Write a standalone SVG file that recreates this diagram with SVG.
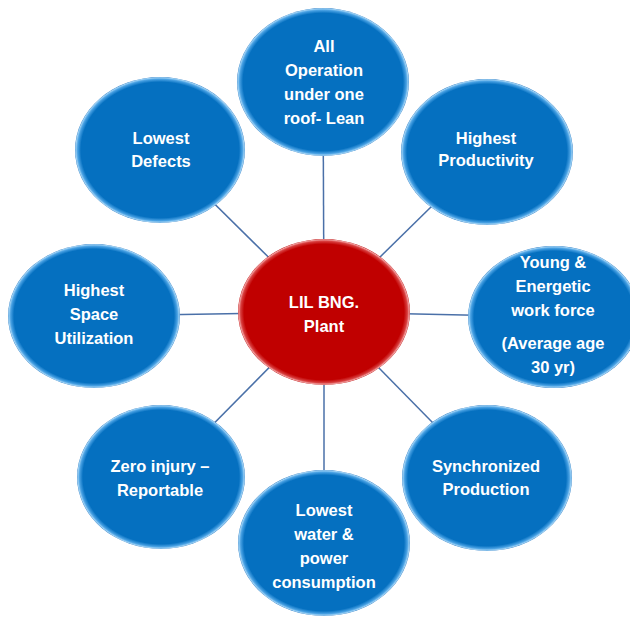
<svg xmlns="http://www.w3.org/2000/svg" width="630" height="621" viewBox="0 0 630 621">
<defs>
<radialGradient id="gb" cx="0.5" cy="0.5" r="0.5">
<stop offset="0" stop-color="#0570c0"/>
<stop offset="0.93" stop-color="#0570c0"/>
<stop offset="0.97" stop-color="#4aa2e4"/>
<stop offset="0.99" stop-color="#9fd2f5"/>
<stop offset="1" stop-color="#3a88cc"/>
</radialGradient>
<radialGradient id="gr" cx="0.5" cy="0.5" r="0.5">
<stop offset="0" stop-color="#c00000"/>
<stop offset="0.93" stop-color="#c00000"/>
<stop offset="0.97" stop-color="#d84040"/>
<stop offset="0.99" stop-color="#f2a0a0"/>
<stop offset="1" stop-color="#c42020"/>
</radialGradient>
<style>
.b{fill:url(#gb);}
.r{fill:url(#gr);}
.t{font-family:"Liberation Sans",Arial,sans-serif;font-weight:bold;font-size:16.5px;fill:#ffffff;text-anchor:middle;}
.c{stroke:#4a70a8;stroke-width:1.5;fill:none;}
</style>
</defs>
<rect width="630" height="621" fill="#ffffff"/>
<g id="connectors">
<line class="c" x1="324" y1="312" x2="323" y2="82"/>
<line class="c" x1="324" y1="312" x2="487" y2="152"/>
<line class="c" x1="324" y1="312" x2="554" y2="317"/>
<line class="c" x1="324" y1="312" x2="487" y2="478"/>
<line class="c" x1="324" y1="312" x2="324" y2="543"/>
<line class="c" x1="324" y1="312" x2="161" y2="477"/>
<line class="c" x1="324" y1="312" x2="94" y2="316"/>
<line class="c" x1="324" y1="312" x2="160" y2="150"/>
</g>
<g id="n-top">
<ellipse class="b" cx="323" cy="82" rx="86" ry="74"/>
<text class="t" x="324" y="52">All</text>
<text class="t" x="324" y="76">Operation</text>
<text class="t" x="324" y="100">under one</text>
<text class="t" x="324" y="124">roof- Lean</text>
</g>
<g id="n-productivity">
<ellipse class="b" cx="487" cy="152" rx="86" ry="73"/>
<text class="t" x="486" y="144">Highest</text>
<text class="t" x="486" y="166">Productivity</text>
</g>
<g id="n-young">
<ellipse class="b" cx="554" cy="317" rx="86" ry="71"/>
<text class="t" x="553" y="268">Young &amp;</text>
<text class="t" x="553" y="292">Energetic</text>
<text class="t" x="553" y="316">work force</text>
<text class="t" x="553" y="349">(Average age</text>
<text class="t" x="553" y="373">30 yr)</text>
</g>
<g id="n-sync">
<ellipse class="b" cx="487" cy="478" rx="85" ry="73"/>
<text class="t" x="486" y="472">Synchronized</text>
<text class="t" x="486" y="495">Production</text>
</g>
<g id="n-water">
<ellipse class="b" cx="324" cy="543" rx="86" ry="73"/>
<text class="t" x="324" y="516">Lowest</text>
<text class="t" x="324" y="540">water &amp;</text>
<text class="t" x="324" y="564">power</text>
<text class="t" x="324" y="588">consumption</text>
</g>
<g id="n-injury">
<ellipse class="b" cx="161" cy="477" rx="84" ry="72"/>
<text class="t" x="160" y="472">Zero injury –</text>
<text class="t" x="160" y="496">Reportable</text>
</g>
<g id="n-space">
<ellipse class="b" cx="94" cy="316" rx="86" ry="72"/>
<text class="t" x="94" y="296">Highest</text>
<text class="t" x="94" y="320">Space</text>
<text class="t" x="94" y="344">Utilization</text>
</g>
<g id="n-defects">
<ellipse class="b" cx="160" cy="150" rx="85" ry="73"/>
<text class="t" x="161" y="144">Lowest</text>
<text class="t" x="161" y="167">Defects</text>
</g>
<g id="n-center">
<ellipse class="r" cx="324" cy="312" rx="86" ry="73"/>
<text class="t" x="324" y="308">LIL BNG.</text>
<text class="t" x="324" y="332">Plant</text>
</g>
</svg>
